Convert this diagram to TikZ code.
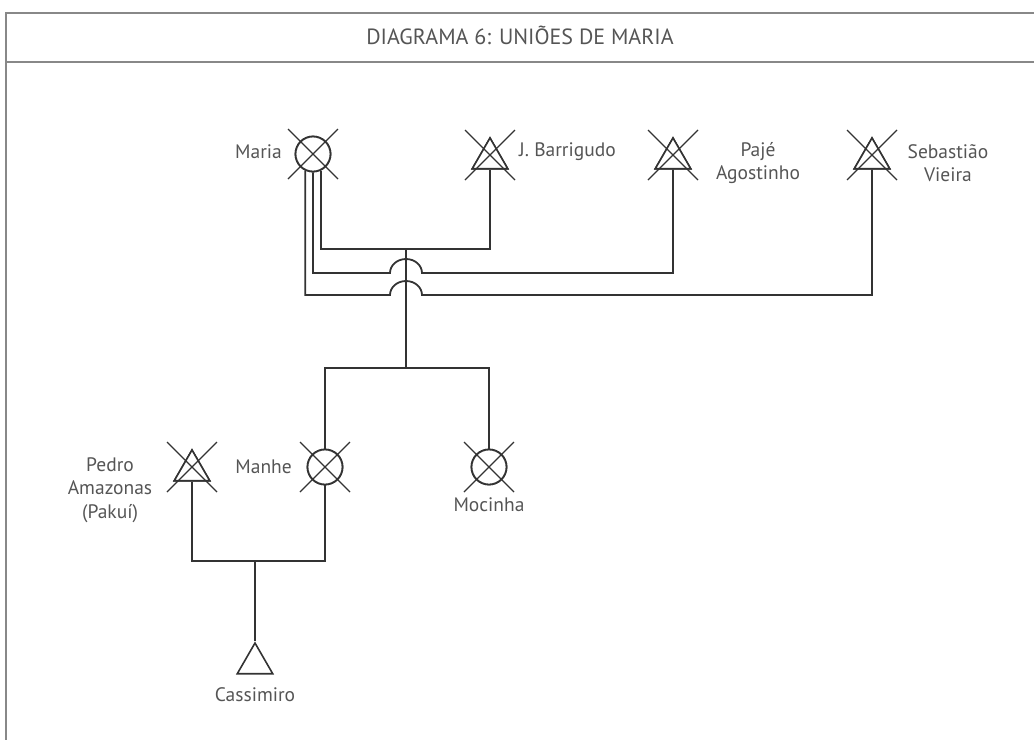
\documentclass[tikz,border=0pt]{standalone}
\usepackage{fontspec}
\setmainfont{PT Sans}
\usetikzlibrary{shapes.geometric,calc}
\definecolor{ink}{HTML}{333333}
\definecolor{txt}{HTML}{555555}
\definecolor{framec}{HTML}{888888}
\newcommand\deadmark[2][0]{%
  \draw[xmark] ($(#2.center)+(-25,-25+#1)$) -- ($(#2.center)+(25,25+#1)$);
  \draw[xmark] ($(#2.center)+(-25,25+#1)$) -- ($(#2.center)+(25,-25+#1)$);}
\begin{document}
\begin{tikzpicture}[x=1pt,y=-1pt,
  line/.style={draw=ink,line width=1.8pt},
  fem/.style={circle,draw=ink,line width=1.8pt,fill=white,minimum size=35pt,inner sep=0pt},
  male/.style={regular polygon,regular polygon sides=3,draw=ink,line width=1.6pt,fill=white,minimum size=41pt,inner sep=0pt},
  xmark/.style={draw=ink,line width=1.2pt},
  lbl/.style={text=txt,font=\fontsize{19.5}{23.5}\selectfont,inner sep=0pt,align=center},
  ttl/.style={text=txt,font=\fontsize{22}{26}\selectfont,inner sep=0pt},
  frm/.style={draw=framec,line width=1.5pt}]
\useasboundingbox (0,0) rectangle (1034,740);
% frame
\draw[frm] (1034,13) -- (6,13) -- (6,740);
\draw[frm] (6,62) -- (1034,62);
\node[ttl] (title) at (520,35) {DIAGRAMA 6: UNIÕES DE MARIA};
% junction coordinates
\coordinate (u1) at (406,249);
\coordinate (sib) at (406,368);
\coordinate (u2) at (255,561);
% people
\node[fem] (maria) at (313,154) {};
\node[male] (barr) at (490,158.5) {};
\node[male] (paje) at (673,158.5) {};
\node[male] (seb) at (872,158.5) {};
\node[fem] (manhe) at (325,467) {};
\node[fem] (moc) at (489,467) {};
\node[male] (pedro) at (192,470.5) {};
\node[male] (cass) at (255,663.5) {};
% connectors
\draw[line] (maria.-65) |- (u1) -| (barr.south);
\draw[line] (maria.south) |- (390,273) arc[start angle=180,end angle=0,x radius=16pt,y radius=14pt] -| (paje.south);
\draw[line] (maria.-115) |- (390,295) arc[start angle=180,end angle=0,x radius=16pt,y radius=14pt] -| (seb.south);
\draw[line] (u1) -- (sib);
\draw[line] (manhe.north) |- (sib) -| (moc.north);
\draw[line] (pedro.south) |- (u2) -| (manhe.south);
\draw[line] (u2) -- (cass.north);
% redraw symbols on top
\node[fem] at (maria) {};
\node[fem] at (manhe) {};
\node[fem] at (moc) {};
\node[male] at (barr) {};
\node[male] at (paje) {};
\node[male] at (seb) {};
\node[male] at (pedro) {};
% death marks
\deadmark{maria}
\deadmark{manhe}
\deadmark{moc}
\deadmark[-3.5]{barr}
\deadmark[-3.5]{paje}
\deadmark[-3.5]{seb}
\deadmark[-3.5]{pedro}
% labels
\node[lbl,anchor=east] (lmaria) at (282,152) {Maria};
\node[lbl,anchor=west] (lbarr) at (519,152) {J. Barrigudo};
\node[lbl] (lpaje) at (758,163) {Pajé\\Agostinho};
\node[lbl] (lseb) at (948,163) {Sebastião\\Vieira};
\node[lbl,anchor=east] (lmanhe) at (292,467) {Manhe};
\node[lbl] (lmoc) at (489,505) {Mocinha};
\node[lbl] (lpedro) at (110,490) {Pedro\\Amazonas\\(Pakuí)};
\node[lbl] (lcass) at (255,695) {Cassimiro};
\end{tikzpicture}
\end{document}
